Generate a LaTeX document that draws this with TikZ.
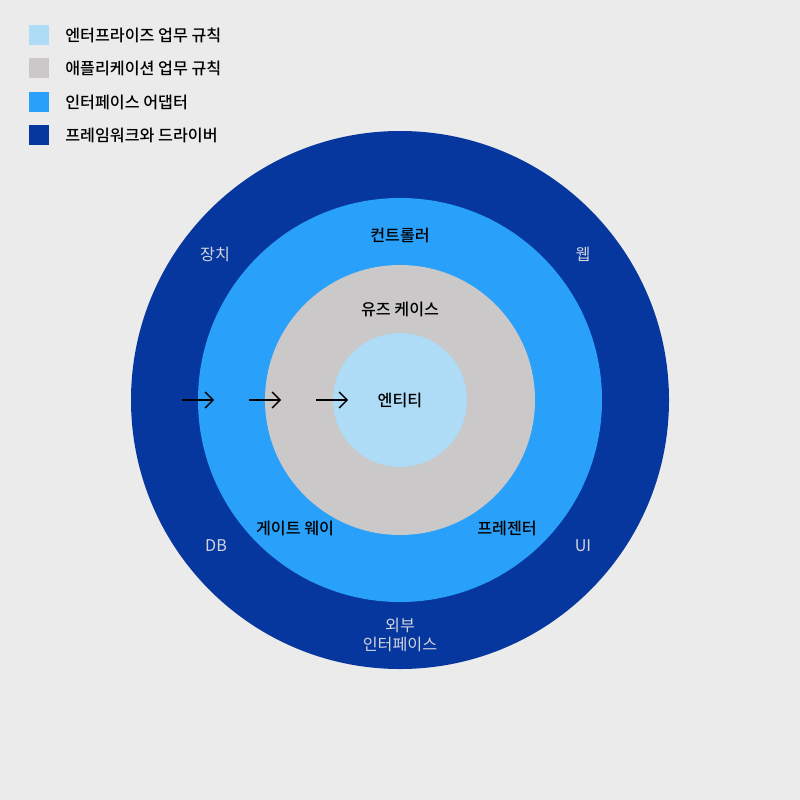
\documentclass[tikz,border=0pt]{standalone}
\usepackage{fontspec}
\setmainfont{Noto Sans CJK KR}[BoldFont={Noto Sans CJK KR Medium}]
\usetikzlibrary{arrows.meta}
\definecolor{bgcol}{HTML}{EBEBEB}
\definecolor{entcol}{HTML}{AEDBF5}
\definecolor{appcol}{HTML}{CAC8C9}
\definecolor{adpcol}{HTML}{29A1FB}
\definecolor{fwcol}{HTML}{06379E}
\definecolor{outtxt}{HTML}{D2D4E0}
\tikzset{
	legendbox/.style={draw=none, minimum size=0.4cm, inner sep=0pt},
	legendtext/.style={anchor=west, inner sep=0pt, font=\fontsize{9.2}{11}\selectfont\bfseries},
	ringlabel/.style={font=\fontsize{9.2}{11}\selectfont\bfseries, text=black},
	outerlabel/.style={font=\fontsize{9.2}{11}\selectfont, text=outtxt, align=center},
	flow/.style={-{Straight Barb[length=1.6mm, width=3.2mm]}, line width=0.8pt},
}
\begin{document}
\begin{tikzpicture}[x=0.02cm, y=-0.02cm]
	\fill[bgcol] (0,0) rectangle (800,800);
	\useasboundingbox (0,0) rectangle (800,800);

	\node[legendbox, fill=entcol] (l1) at (39,35) {};
	\node[legendbox, fill=appcol] (l2) at (39,68) {};
	\node[legendbox, fill=adpcol] (l3) at (39,102) {};
	\node[legendbox, fill=fwcol] (l4) at (39,135) {};
	\node[legendtext] at (65,35) {엔터프라이즈 업무 규칙};
	\node[legendtext] at (65,68) {애플리케이션 업무 규칙};
	\node[legendtext] at (65,102) {인터페이스 어댑터};
	\node[legendtext] at (65,135) {프레임워크와 드라이버};

	\fill[fwcol] (400,400) circle [radius=269];
	\fill[adpcol] (400,400) circle [radius=202];
	\fill[appcol] (400,400) circle [radius=135];
	\fill[entcol] (400,400) circle [radius=67];

	\node[ringlabel] (ent) at (400,400) {엔티티};
	\node[ringlabel] (uc) at (400,309) {유즈 케이스};
	\node[ringlabel] (ctrl) at (400,235) {컨트롤러};
	\node[ringlabel] (gw) at (295,528) {게이트 웨이};
	\node[ringlabel] (pres) at (507,528) {프레젠터};

	\node[outerlabel] (dev) at (215,254) {장치};
	\node[outerlabel] (web) at (583,254) {웹};
	\node[outerlabel] (db) at (216,546) {DB};
	\node[outerlabel] (ui) at (583,546) {UI};
	\node[outerlabel] (ext) at (400,635) {외부\\[0pt]인터페이스};

	\coordinate (a) at (182,400);
	\coordinate (b) at (214,400);
	\coordinate (c) at (249,400);
	\coordinate (d) at (281,400);
	\coordinate (e) at (316,400);
	\coordinate (f) at (348,400);
	\draw[flow] (a) -- (b);
	\draw[flow] (c) -- (d);
	\draw[flow] (e) -- (f);
\end{tikzpicture}
\end{document}
